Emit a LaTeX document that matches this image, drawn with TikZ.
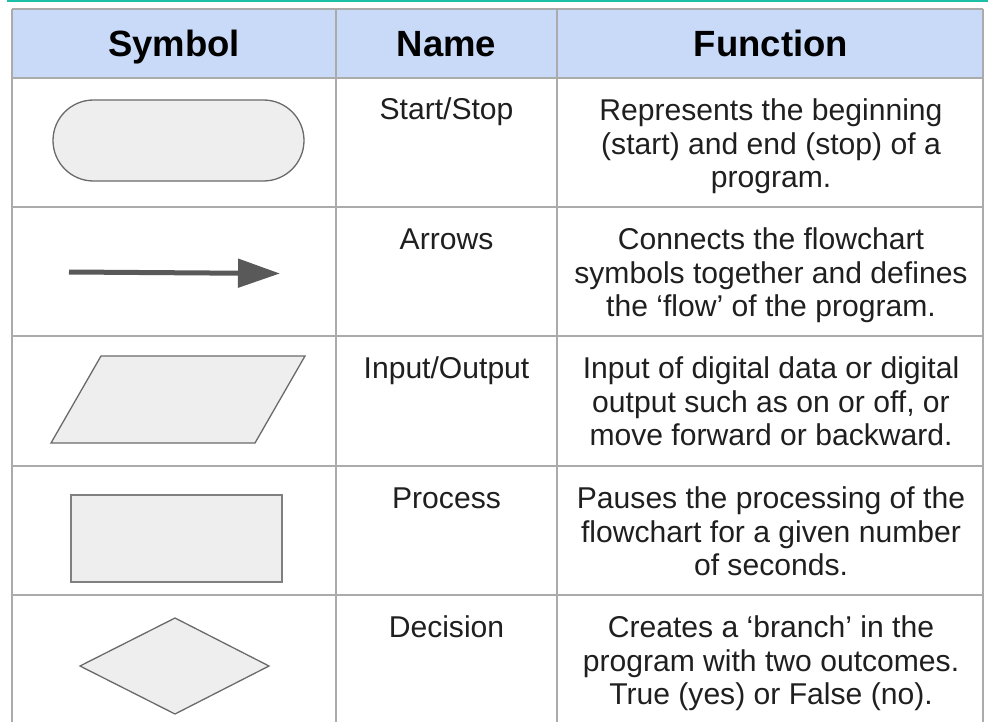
\documentclass[tikz,border=0pt]{standalone}
\usepackage{fontspec}
\setmainfont{Liberation Sans}
\usepackage{xcolor}
\usepackage{tikz}
\usetikzlibrary{positioning, arrows.meta}

\definecolor{headblue}{HTML}{C9DAF8}
\definecolor{gridgray}{HTML}{ABABAB}
\definecolor{shapefill}{HTML}{EEEEEE}
\definecolor{shapeline}{HTML}{6A6A6A}
\definecolor{arrowgray}{HTML}{595959}
\definecolor{topteal}{HTML}{1DBFA8}

\begin{document}
\begin{tikzpicture}[
    x=1bp, y=-1bp,
    every node/.style={inner sep=0, text=black!88},
    hdr/.style={anchor=base, font=\fontsize{36.5bp}{40bp}\selectfont\bfseries, text=black},
    namecell/.style={anchor=base, font=\fontsize{30.1bp}{33.5bp}\selectfont},
    funccell/.style={anchor=north, align=center, font=\fontsize{30.1bp}{33.5bp}\selectfont},
    symshape/.style={draw=shapeline, fill=shapefill, line width=1.3bp},
    gridline/.style={draw=gridgray, line width=1.6bp}
]
\useasboundingbox (0,0) rectangle (988,722);
% top rule and header band
\draw[topteal, line width=2bp] (7,0.8) -- (988,0.8);
\fill[headblue] (12,9) rectangle (983,78);
% table grid
\foreach \y in {9,78,207,336,466,595}
    \draw[gridline] (12,\y) -- (983,\y);
\foreach \x in {12,336,557,983}
    \draw[gridline] (\x,9) -- (\x,722);

% header
\node[hdr] (symhead) at (174,57) {Symbol};
\node[hdr] (namehead) at (446.5,57) {Name};
\node[hdr] (funchead) at (771,57) {Function};

% symbols
\draw[symshape, rounded corners=40.5bp] (53,100) rectangle (304,181);
\coordinate (arrowtail) at (69,272);
\coordinate (arrowtip) at (280,273.5);
\draw[arrowgray, line width=5bp, -{Triangle[length=42bp, width=28bp]}] (arrowtail) -- (arrowtip);
\draw[symshape] (101,356) -- (305,356) -- (255,443) -- (51,443) -- cycle;
\draw[symshape, draw=shapeline!85, line width=2bp] (71,495) rectangle (282,582);
\draw[symshape] (175,618) -- (269,666) -- (175,714) -- (80,666) -- cycle;

% names
\node[namecell] (startname) at (446.5,120) {Start/Stop};
\node[namecell] (arrowname) at (446.5,249) {Arrows};
\node[namecell] (ioname) at (446.5,378) {Input/Output};
\node[namecell] (procname) at (446.5,508) {Process};
\node[namecell] (decname) at (446.5,637) {Decision};

% functions
\node[funccell] (startfunc) at (771,98.5) {Represents the beginning\\(start) and end (stop) of a\\program.};
\node[funccell] (arrowfunc) at (771,227.5) {Connects the flowchart\\symbols together and defines\\the ‘flow’ of the program.};
\node[funccell] (iofunc) at (771,356.5) {Input of digital data or digital\\output such as on or off, or\\move forward or backward.};
\node[funccell] (procfunc) at (771,486.5) {Pauses the processing of the\\flowchart for a given number\\of seconds.};
\node[funccell] (decfunc) at (771,615.5) {Creates a ‘branch’ in the\\program with two outcomes.\\True (yes) or False (no).};
\end{tikzpicture}
\end{document}
